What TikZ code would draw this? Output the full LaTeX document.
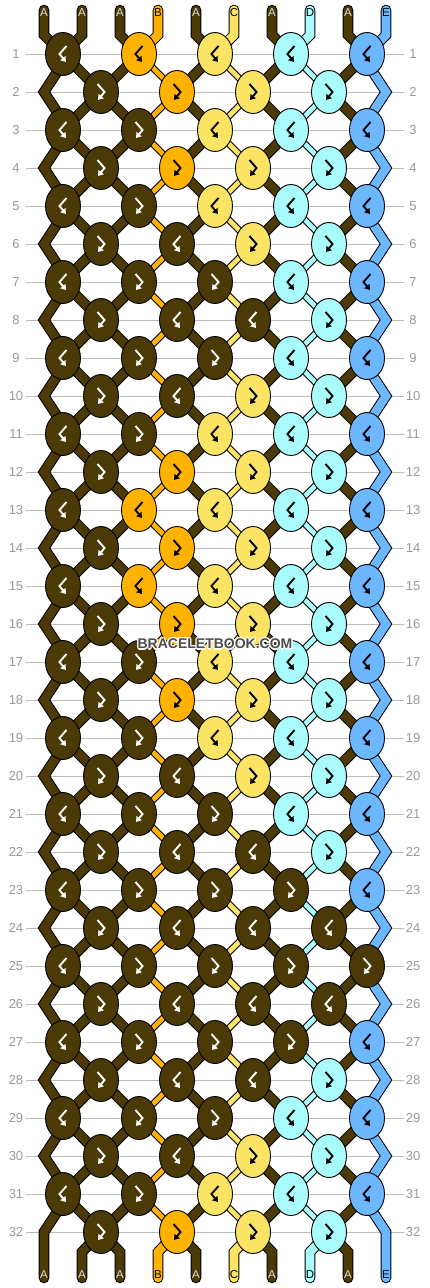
\documentclass[tikz,border=0pt]{standalone}
\usepackage{fontspec}
\setmainfont{Liberation Sans}
\usetikzlibrary{shapes.geometric,arrows.meta}

\definecolor{strA}{HTML}{4B3A06}
\definecolor{strB}{HTML}{FFB300}
\definecolor{strC}{HTML}{FBE464}
\definecolor{strD}{HTML}{AAFBFB}
\definecolor{strE}{HTML}{6CB7FF}
\definecolor{gridgray}{HTML}{BBBBBB}
\definecolor{numgray}{HTML}{999999}
\definecolor{lablight}{HTML}{DDDDDD}
\definecolor{wmgray}{HTML}{4D4D4D}

\tikzset{
  knot/.style={ellipse, draw=black, line width=0.9pt, minimum width=35pt, minimum height=43pt, inner sep=0pt},
  thread/.style={draw=#1, line width=8.6pt, preaction={draw=black, line width=10.6pt}},
  fine thread/.style={draw=#1, line width=4.8pt, preaction={draw=black, line width=6.8pt}},
  tail/.style={draw=#1, line width=8.6pt, line cap=round, preaction={draw=black, line width=10.6pt, line cap=round}},
  glyph/.style={draw=#1, line width=1.9pt, -{Triangle[length=5pt,width=6.5pt]}},
  rowline/.style={draw=gridgray, line width=0.9pt},
  rownum/.style={text=numgray, font=\fontsize{13}{13}\selectfont, inner sep=0pt},
  endlabel/.style={text=#1, font=\fontsize{11.5}{11.5}\selectfont, inner sep=0pt},
  watermark/.style={text=#1, font=\bfseries\fontsize{14}{14}\selectfont, inner sep=0pt}
}

\begin{document}
\begin{tikzpicture}[x=1pt,y=-1pt]
  \fill[white] (0,0) rectangle (430,1288);
  \useasboundingbox (0,0) rectangle (430,1288);

  % knot positions and edge turns
  \foreach \r in {1,...,32} {
    \ifodd\r
      \foreach \k in {1,...,5} \coordinate (k-\r-\k) at ({63+76*(\k-1)},{54+38*(\r-1)});
    \else
      \foreach \k in {1,...,4} \coordinate (k-\r-\k) at ({101+76*(\k-1)},{54+38*(\r-1)});
      \coordinate (L-\r) at (44,{54+38*(\r-1)});
      \coordinate (R-\r) at (386,{54+38*(\r-1)});
    \fi
  }
  \foreach \i in {1,...,10} {
    \coordinate (T-\i) at ({44+38*(\i-1)},10);
    \coordinate (B-\i) at ({44+38*(\i-1)},1278);
  }

  % row guides
  \foreach \r in {1,...,32} {
    \draw[rowline] (26,{54+38*(\r-1)}) -- (404,{54+38*(\r-1)});
    \node[rownum] (ln-\r) at (16,{54+38*(\r-1)}) {\r};
    \node[rownum] (rn-\r) at (413,{54+38*(\r-1)}) {\r};
  }

  % threads between knots
  \foreach \r [evaluate=\r as \s using int(\r+1)] in {1,...,31} {
    \ifodd\r \edef\o{\r}\edef\e{\s}\else \edef\o{\s}\edef\e{\r}\fi
    \foreach \k in {1,...,4} {
      \pgfmathtruncatemacro\kk{\k+1}
      \draw[thread=strA] (k-\e-\k) -- (k-\o-\kk);
      \ifnum\k=1
        \draw[thread=strA] (k-\e-\k) -- (k-\o-\k);
      \else
        \edef\sc{\ifcase\k\or strA\or strB\or strC\or strD\fi}
        \draw[fine thread=\sc] (k-\e-\k) -- (k-\o-\k);
      \fi
    }
  }

  % edge threads
  \foreach \r [evaluate=\r as \prv using int(\r-1), evaluate=\r as \nxt using int(\r+1)] in {2,4,...,30} {
    \draw[thread=strA] ([xshift=6pt]k-\prv-1) -- (L-\r) -- ([xshift=6pt]k-\nxt-1);
    \draw[thread=strE] ([xshift=-6pt]k-\prv-5) -- (R-\r) -- ([xshift=-6pt]k-\nxt-5);
  }
  \draw[tail=strA] (B-1) -- (L-32) -- ([xshift=6pt]k-31-1);
  \draw[tail=strE] (B-10) -- (R-32) -- ([xshift=-6pt]k-31-5);

  % loose ends
  \foreach \i/\c in {1/strA,2/strA,3/strA,4/strB,5/strA,6/strC,7/strA,8/strD,9/strA,10/strE} {
    \pgfmathtruncatemacro\n{(\i+1)/2}
    \draw[tail=\c] (T-\i) -- ++(0,25) -- (k-1-\n);
  }
  \foreach \i/\c in {2/strA,3/strA,4/strB,5/strA,6/strC,7/strA,8/strD,9/strA} {
    \pgfmathtruncatemacro\n{\i/2}
    \draw[tail=\c] (B-\i) -- ++(0,-26) -- (k-32-\n);
  }

  % knots: b = backward-forward, f = forward-backward
  \foreach \r/\pat in {1/{b,b,b,b,b}, 2/{f,f,f,f}, 3/{b,f,b,b,b}, 4/{f,f,f,f},
      5/{b,f,b,b,b}, 6/{f,b,f,f}, 7/{b,f,f,b,b}, 8/{f,b,b,f},
      9/{b,f,f,b,b}, 10/{f,b,f,f}, 11/{b,f,b,b,b}, 12/{f,f,f,f},
      13/{b,b,b,b,b}, 14/{f,f,f,f}, 15/{b,b,b,b,b}, 16/{f,f,f,f},
      17/{b,f,b,b,b}, 18/{f,f,f,f}, 19/{b,f,b,b,b}, 20/{f,b,f,f},
      21/{b,f,f,b,b}, 22/{f,b,b,f}, 23/{b,f,f,f,b}, 24/{f,b,b,b},
      25/{b,f,f,f,f}, 26/{f,b,b,b}, 27/{b,f,f,f,b}, 28/{f,b,b,f},
      29/{b,f,f,b,b}, 30/{f,b,f,f}, 31/{b,f,b,b,b}, 32/{f,f,f,f}} {
    \foreach \t [count=\k] in \pat {
      \ifodd\r
        \if b\t \edef\kc{\ifcase\k\or strA\or strB\or strC\or strD\or strE\fi}\else \def\kc{strA}\fi
      \else
        \if f\t \edef\kc{\ifcase\k\or strA\or strB\or strC\or strD\fi}\else \def\kc{strA}\fi
      \fi
      \def\tmpA{strA}
      \ifx\kc\tmpA \def\gc{white}\else \def\gc{black}\fi
      \node[knot, fill=\kc] (n-\r-\k) at (k-\r-\k) {};
      \if b\t
        \draw[glyph=\gc] ([shift={(3.5,-8)}]k-\r-\k) -- ++(-7,8) -- ++(6.5,8);
      \else
        \draw[glyph=\gc] ([shift={(-3.5,-8)}]k-\r-\k) -- ++(7,8) -- ++(-6.5,8);
      \fi
    }
  }

  % thread names
  \foreach \i/\l/\tc in {1/A/lablight,2/A/lablight,3/A/lablight,4/B/black,5/A/lablight,
      6/C/black,7/A/lablight,8/D/black,9/A/lablight,10/E/black} {
    \node[endlabel=\tc] (tl-\i) at ([yshift=-3pt]T-\i) {\l};
    \node[endlabel=\tc] (bl-\i) at ([yshift=3pt]B-\i) {\l};
  }

  \foreach \a in {0,45,...,315}
    \node[watermark=white] (wm-\a) at ([shift={(\a:1.2)}]215,644) {BRACELETBOOK.COM};
  \node[watermark=wmgray] (wm) at (215,644) {BRACELETBOOK.COM};
\end{tikzpicture}
\end{document}
